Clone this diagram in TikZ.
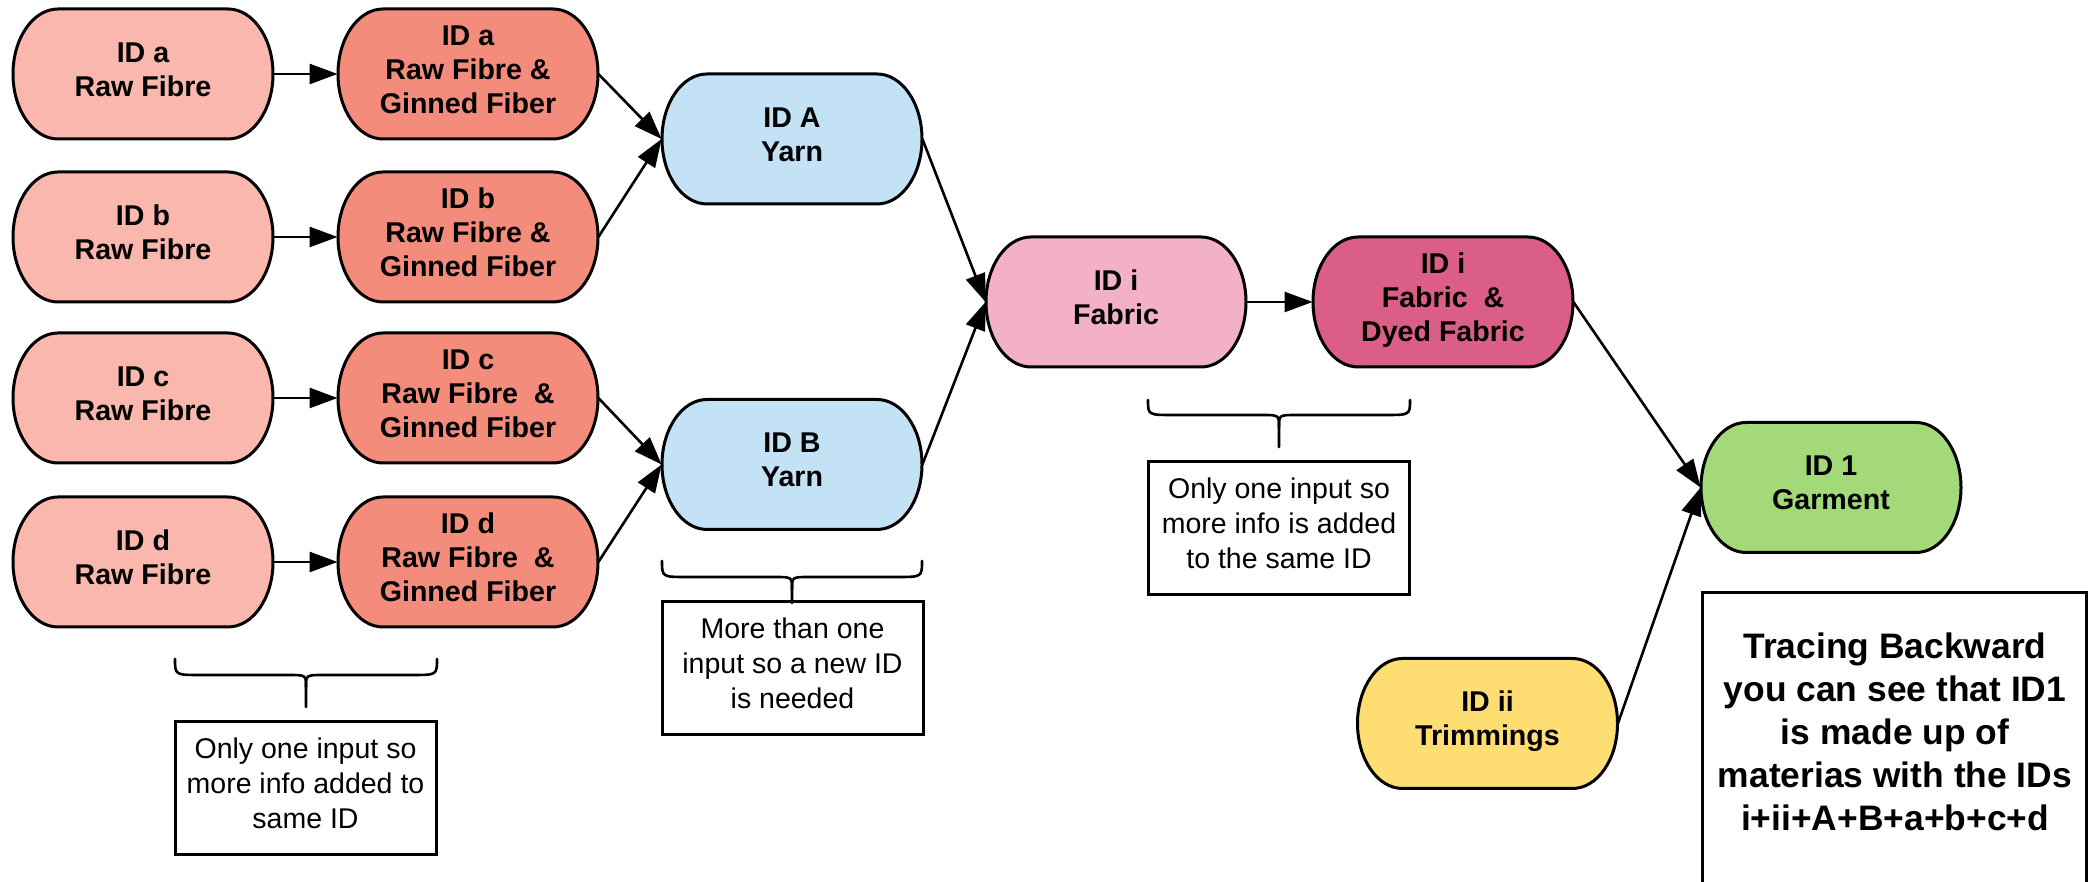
\documentclass[tikz,border=0pt]{standalone}
\usepackage{fontspec}
\setmainfont{Liberation Sans}
\usetikzlibrary{arrows.meta}
\definecolor{rawc}{HTML}{F9B7AD}
\definecolor{ginc}{HTML}{F48C7C}
\definecolor{yarnc}{HTML}{C3E2F6}
\definecolor{fabc}{HTML}{F3B1C6}
\definecolor{dyec}{HTML}{DB5E86}
\definecolor{garc}{HTML}{A4D97A}
\definecolor{trimc}{HTML}{FEDE72}
\tikzset{
  pilltext/.style={minimum width=130pt, minimum height=65pt, inner sep=0pt, align=center,
    font=\fontsize{14.3}{17}\selectfont\bfseries},
  pillline/.style={draw=black, line width=1.5pt},
  conn/.style={line width=1.3pt, -{Triangle[length=14pt,width=10pt]}},
  bracestyle/.style={line width=1.3pt, line cap=round, line join=round},
  notebox/.style={draw, line width=1.5pt, minimum width=130.5pt, minimum height=66.5pt,
    inner sep=0pt, align=center, font=\fontsize{14.25}{17.3}\selectfont},
  bigtext/.style={align=center, inner sep=0pt, font=\fontsize{17.7}{21.5}\selectfont\bfseries},
}
% #1 name, #2 x, #3 y, #4 fill, #5 text
\newcommand\pillnode[5]{%
  \filldraw[fill=#4, pillline] ({#2-85},{#3+65}) -- ({#2+85},{#3+65})
    arc[start angle=90, end angle=-90, x radius=22.5pt, y radius=32.5pt]
    -- ({#2-85},{#3-65})
    arc[start angle=270, end angle=90, x radius=22.5pt, y radius=32.5pt] -- cycle;
  \node[pilltext] (#1) at (#2,#3) {\rule{0pt}{12pt}#5\rule[-6.5pt]{0pt}{0pt}};
}
% #1 x1, #2 x2, #3 y ends, #4 y horizontal, #5 y meet, #6 y stem
\newcommand\bracedraw[6]{%
  \draw[bracestyle] (#1,#3) .. controls (#1,#4) .. ({#1+25},#4) -- ({(#1+#2)/2-18},#4)
    .. controls ({(#1+#2)/2},#4) .. ({(#1+#2)/2},#5) -- ({(#1+#2)/2},#6);
  \draw[bracestyle] (#2,#3) .. controls (#2,#4) .. ({#2-25},#4) -- ({(#1+#2)/2+18},#4)
    .. controls ({(#1+#2)/2},#4) .. ({(#1+#2)/2},#5);
}
\newcommand\notetext[1]{\rule{0pt}{12pt}#1\rule[-7pt]{0pt}{0pt}}
\begin{document}
\begin{tikzpicture}[x=0.5pt,y=0.5pt]
\useasboundingbox (0,0) rectangle (2089,882);
\clip (0,0) rectangle (2089,882);
\fill[white] (0,0) rectangle (2089,882);

\pillnode{ra}{143}{808}{rawc}{ID a\\Raw Fibre}
\pillnode{rb}{143}{645}{rawc}{ID b\\Raw Fibre}
\pillnode{rc}{143}{484}{rawc}{ID c\\Raw Fibre}
\pillnode{rd}{143}{320}{rawc}{ID d\\Raw Fibre}

\pillnode{ga}{468}{808}{ginc}{ID a\\Raw Fibre \&\\Ginned Fiber}
\pillnode{gb}{468}{645}{ginc}{ID b\\Raw Fibre \&\\Ginned Fiber}
\pillnode{gc}{468}{484}{ginc}{ID c\\Raw Fibre\ \ \&\\Ginned Fiber}
\pillnode{gd}{468}{320}{ginc}{ID d\\Raw Fibre\ \ \&\\Ginned Fiber}

\pillnode{ya}{792}{743}{yarnc}{ID A\\Yarn}
\pillnode{yb}{792}{417.5}{yarnc}{ID B\\Yarn}

\pillnode{fi}{1116}{580}{fabc}{ID i\\Fabric}
\pillnode{fd}{1443}{580}{dyec}{ID i\\Fabric\ \ \&\\Dyed Fabric}

\pillnode{gar}{1831}{394.5}{garc}{ID 1\\Garment}
\pillnode{tr}{1487.5}{158.5}{trimc}{ID ii\\Trimmings}

% connectors
\draw[conn] (ra.east) -- (ga.west);
\draw[conn] (rb.east) -- (gb.west);
\draw[conn] (rc.east) -- (gc.west);
\draw[conn] (rd.east) -- (gd.west);
\draw[conn] (ga.east) -- (ya.west);
\draw[conn] (gb.east) -- (ya.west);
\draw[conn] (gc.east) -- (yb.west);
\draw[conn] (gd.east) -- (yb.west);
\draw[conn] (ya.east) -- (fi.west);
\draw[conn] (yb.east) -- (fi.west);
\draw[conn] (fi.east) -- (fd.west);
\draw[conn] (fd.east) -- (gar.west);
\draw[conn] (tr.east) -- (gar.west);

% braces
\bracedraw{175}{437}{223}{207}{195}{175}
\bracedraw{662}{922}{321}{305}{293}{279}
\bracedraw{1148}{1410}{482}{467}{455}{435}

% note boxes
\node[notebox] (n1) at (305.5,93.5) {\notetext{Only one input so\\more info added to\\same ID}};
\node[notebox] (n2) at (792.5,213.5) {\notetext{More than one\\input so a new ID\\is needed}};
\node[notebox] (n3) at (1279,353.5) {\notetext{Only one input so\\more info is added\\to the same ID}};

% tracing box
\draw[line width=1.5pt] (1702,-20) -- (1702,289) -- (2086,289) -- (2086,-20);
\node[bigtext] (trace) at (1895,150) {Tracing Backward\\you can see that ID1\\is made up of\\materias with the IDs\\i+ii+A+B+a+b+c+d};
\end{tikzpicture}
\end{document}
